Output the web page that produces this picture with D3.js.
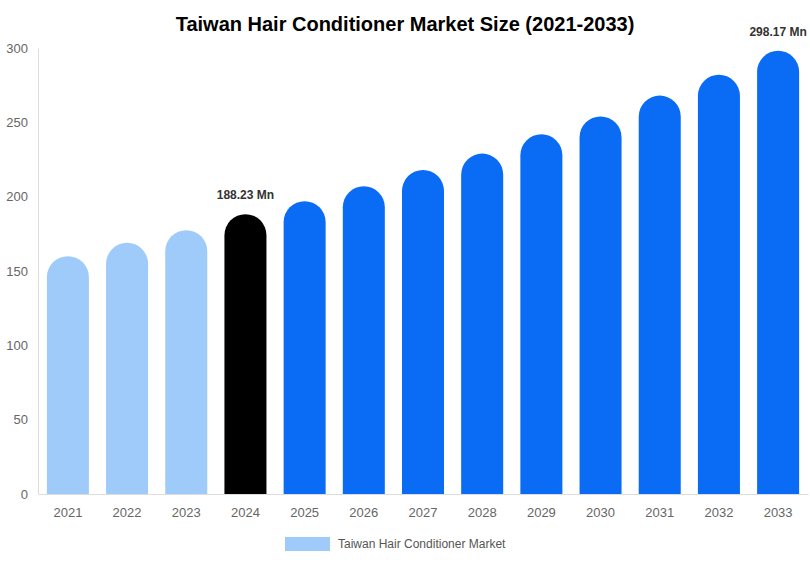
<!DOCTYPE html>
<html><head><meta charset="utf-8">
<script src="https://cdn.jsdelivr.net/npm/d3@7"></script>
<style>body{margin:0;background:#fff;font-family:Arial,"Liberation Sans",sans-serif}</style>
</head><body><svg id="c" width="810" height="562"></svg>
<script>
const years=["2021","2022","2023","2024","2025","2026","2027","2028","2029","2030","2031","2032","2033"];
const values=[160,169,177.5,188.23,197,207,218,229,242,254,268,282,298.17];
const colors=["#9fcbfb","#9fcbfb","#9fcbfb","#000000","#0a6cf5","#0a6cf5","#0a6cf5","#0a6cf5","#0a6cf5","#0a6cf5","#0a6cf5","#0a6cf5","#0a6cf5"];
const yTicks=[0,50,100,150,200,250,300];
const labels={3:"188.23 Mn",12:"298.17 Mn"};
const svg=d3.select("#c");
const x=d3.scaleBand().domain(years).range([38,808]).paddingInner(0.29).paddingOuter(0.15);
const y=d3.scaleLinear().domain([0,300]).range([494,48]);
svg.append("text").attr("x",405).attr("y",31).attr("text-anchor","middle").attr("font-size",20).attr("font-weight","bold").text("Taiwan Hair Conditioner Market Size (2021-2033)");
const ya=svg.append("g").attr("transform","translate(38,0)").call(d3.axisLeft(y).tickValues(yTicks).tickSize(0).tickPadding(10));
ya.select(".domain").attr("stroke","#ddd");
ya.selectAll("text").attr("fill","#666").attr("font-size",13);
const xa=svg.append("g").attr("transform","translate(0,494)").call(d3.axisBottom(x).tickSize(0).tickPadding(14));
xa.select(".domain").attr("stroke","#ddd");
xa.selectAll("text").attr("fill","#666").attr("font-size",13);
const w=x.bandwidth(),r=w/2;
svg.selectAll("path.bar").data(years).enter().append("path").attr("class","bar")
 .attr("fill",(d,i)=>colors[i])
 .attr("d",(d,i)=>{const x0=x(d),yt=y(values[i]),yb=y(0);
   return `M${x0},${yb}V${yt+r}A${r},${r} 0 0 1 ${x0+w},${yt+r}V${yb}Z`;});
Object.entries(labels).forEach(([i,t])=>{
 svg.append("text").attr("x",x(years[i])+w/2).attr("y",y(values[i])-15).attr("text-anchor","middle")
  .attr("font-size",12).attr("font-weight","bold").attr("fill","#333").text(t);});
svg.append("rect").attr("x",285).attr("y",537).attr("width",45).attr("height",14).attr("fill","#9fcbfb");
svg.append("text").attr("x",338).attr("y",548).attr("font-size",12).attr("fill","#555").text("Taiwan Hair Conditioner Market");
</script></body></html>
